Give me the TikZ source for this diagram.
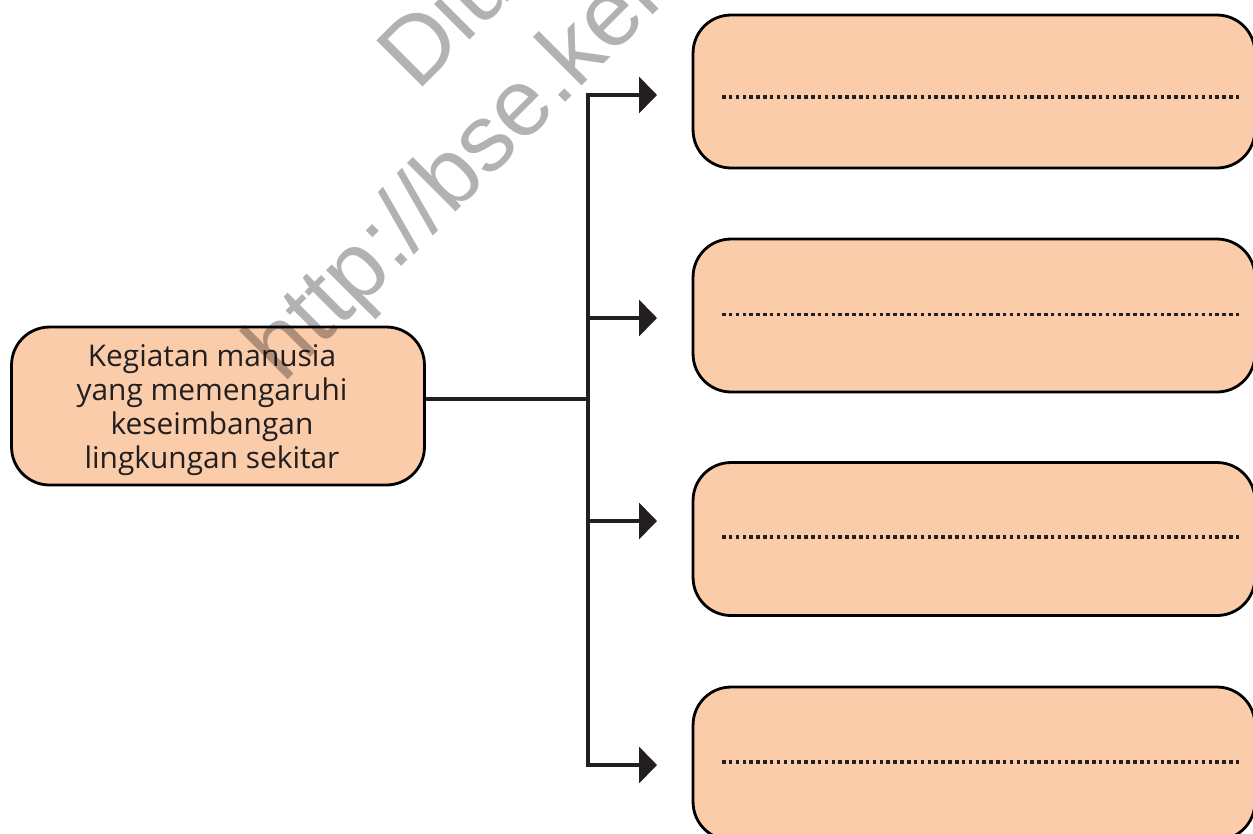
\documentclass[tikz,border=0pt]{standalone}
\usepackage{fontspec}
\setmainfont{Open Sans}
\newfontfamily\wmfont{Liberation Sans}
\usetikzlibrary{arrows.meta}
\definecolor{peach}{RGB}{250,204,170}
\definecolor{ink}{RGB}{35,31,32}
\tikzset{
  pbox/.style={draw=black, line width=1.6pt, fill=peach, rounded corners=0.76cm, inner sep=0pt},
  ln/.style={draw=ink, line width=2.1pt},
  arr/.style={ln, -{Triangle[length=0.36cm, width=0.72cm]}},
  dotln/.style={draw=ink, line width=2pt, dash pattern=on 2pt off 1.9pt},
  wm/.style={font=\wmfont\fontsize{54}{60}\selectfont, text=black, opacity=0.3, rotate=45, anchor=base west, inner sep=0pt}
}
\begin{document}
\begin{tikzpicture}[x=0.02cm, y=-0.02cm]
\useasboundingbox (0,0) rectangle (1253,833);
\clip (0,0) rectangle (1253,833);
% main node
\node[pbox, minimum width=8.26cm, minimum height=3.16cm] (m) at (218,406) {};
\node[align=center, text=ink, inner sep=0pt,
      font=\fontsize{17}{19.3}\selectfont] (mt) at (212,410)
  {Kegiatan manusia\\yang memengaruhi\\keseimbangan\\lingkungan sekitar};
% right boxes
\foreach \n/\cy in {1/91.5, 2/315.5, 3/539, 4/763.5}{
  \node[pbox, minimum width=11.24cm, minimum height=3.06cm] (b\n) at (974,\cy) {};
}
% dotted answer lines
\foreach \n/\dy in {1/5.5, 2/-1, 3/-2, 4/-1.5}{
  \draw[dotln] ([shift={(-252,\dy)}]b\n.center) -- ([shift={(267,\dy)}]b\n.center);
}
% spine coordinates
\coordinate (sp) at (588,399);
\coordinate (sp1) at (588,95);  \coordinate (t1) at (657,95);
\coordinate (sp2) at (588,318); \coordinate (t2) at (657,318);
\coordinate (sp3) at (588,521); \coordinate (t3) at (657,521);
\coordinate (sp4) at (588,765); \coordinate (t4) at (657,765);
\draw[ln] (m.east |- sp) -- (sp);
\draw[ln, line cap=rect] (sp1) -- (sp4);
\foreach \n in {1,2,3,4}{ \draw[arr] (sp\n) -- (t\n); }
% watermark
\node[wm] (w1) at (417,93) {Diunduh dari};
\node[wm] (w2) at (283,385) {http://bse.kemdikbud.go.id};
\end{tikzpicture}
\end{document}
